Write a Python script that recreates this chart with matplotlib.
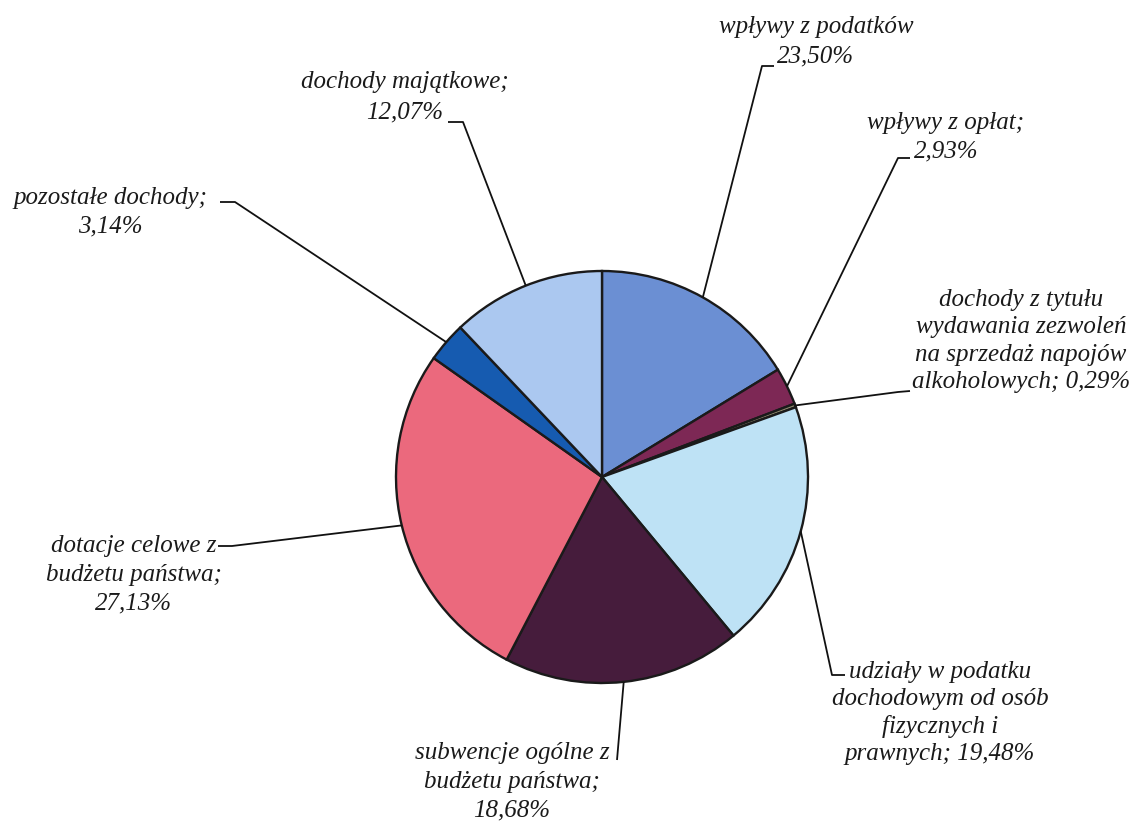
import matplotlib.pyplot as plt
import numpy as np

W, H = 1139, 825   # canvas in pixels; axes use pixel units (y up)

# ---- data ----
categories = [
    "wpływy z podatków\n",
    "wpływy z opłat;\n",
    "dochody z tytułu\nwydawania zezwoleń\nna sprzedaż napojów\nalkoholowych; ",
    "udziały w podatku\ndochodowym od osób\nfizycznych i\nprawnych; ",
    "subwencje ogólne z\nbudżetu państwa;\n",
    "dotacje celowe z\nbudżetu państwa;\n",
    "pozostałe dochody;\n",
    "dochody majątkowe;\n",
]
# percentages printed in the labels
printed_pcts = ["23,50%", "2,93%", "0,29%", "19,48%", "18,68%", "27,13%", "3,14%", "12,07%"]
# wedge sizes as drawn (the tax wedge is drawn at the remainder, not at 23.50)
slice_values = [16.28, 2.93, 0.29, 19.48, 18.68, 27.13, 3.14, 12.07]

colors = ["#6b8fd3", "#7d2855", "#8f8a6e", "#bee2f5",
          "#461c3c", "#eb697d", "#165bb0", "#abc8f0"]

# ---- layout (image pixel coords, y down) ----
center_img = (602, 477)
radius = 206
text_pos = [(816, 42), (946, 137), (1021, 341), (940, 713),
            (512, 782), (134, 575), (110, 212), (405, 97)]
line_sp = [1.45, 1.4, 1.3, 1.3, 1.4, 1.4, 1.4, 1.5]
# knee / end points of the leader lines
leader_pts = [
    [(762, 66), (774, 66)],
    [(898, 158), (910, 158)],
    [(898, 392), (910, 391)],
    [(832, 675), (845, 675)],
    [(617, 760), (617, 760)],
    [(232, 546), (218, 546)],
    [(235, 202), (220, 202)],
    [(463, 122), (448, 122)],
]

fig = plt.figure(figsize=(W / 100, H / 100), dpi=100)
ax = fig.add_axes([0, 0, 1, 1])

cx, cy = center_img[0], H - center_img[1]
wedges, _ = ax.pie(slice_values, colors=colors, startangle=90, counterclock=False,
                   center=(cx, cy), radius=radius,
                   wedgeprops=dict(edgecolor="#1a1a1a", linewidth=1.7))

ax.set_xlim(0, W)
ax.set_ylim(0, H)
ax.set_aspect("equal")
ax.axis("off")

font = dict(family="Liberation Serif", style="italic", size=18, color="#1a1a1a")

for i, w in enumerate(wedges):
    mid = np.deg2rad((w.theta1 + w.theta2) / 2)
    ex, ey = cx + radius * np.cos(mid), cy + radius * np.sin(mid)
    xs = [ex] + [p[0] for p in leader_pts[i]]
    ys = [ey] + [H - p[1] for p in leader_pts[i]]
    ax.plot(xs, ys, color="#111111", lw=1.3, solid_capstyle="butt")

    tx, ty = text_pos[i]
    ax.text(tx, H - ty, categories[i] + printed_pcts[i], ha="center", va="center",
            multialignment="center", linespacing=line_sp[i], **font)

fig.savefig("out.png", dpi=100, facecolor="white")
